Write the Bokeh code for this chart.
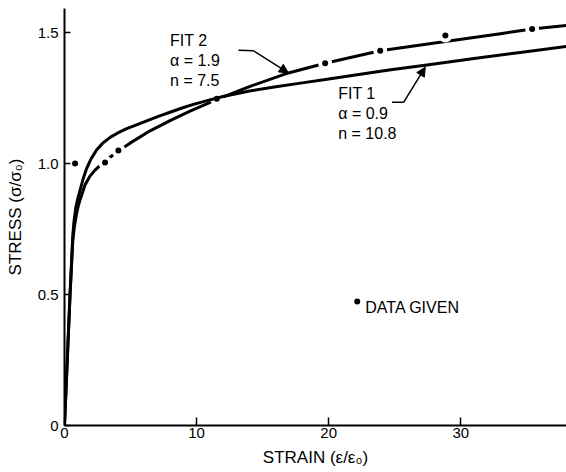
from bokeh.plotting import figure
from bokeh.models import Range1d, FixedTicker, Label, Arrow, NormalHead
from bokeh.embed import file_html
from bokeh.resources import INLINE

# ---- data ----
fit1_strain = [0, 0.42, 0.62, 0.72, 0.85, 1.0, 1.17, 1.4, 1.68, 2.0, 2.44, 2.9, 3.45, 4.0, 4.71, 5.5,
               6.23, 7.1, 7.99, 8.9, 9.76, 11.0, 12.0, 14.0, 16.0, 18.0, 20.0, 22.4, 24.7, 27.3, 31.0, 34.5, 38.0]
fit1_stress = [0, 0.50, 0.72, 0.78, 0.83, 0.865, 0.897, 0.94, 0.982, 1.017, 1.053, 1.078, 1.100, 1.116, 1.133, 1.149,
               1.163, 1.180, 1.196, 1.212, 1.226, 1.243, 1.256, 1.277, 1.293, 1.308, 1.323, 1.341, 1.358, 1.375, 1.401, 1.424, 1.447]

fit2_strain = [0, 0.42, 0.62, 0.75, 0.9, 1.05, 1.2, 1.55, 1.9, 2.31, 3.07, 4.08, 4.96, 6.48, 7.99, 9.5, 10.77,
               11.53, 14.0, 16.95, 19.73, 23.9, 28.83, 33.0, 35.4, 38.0]
fit2_stress = [0, 0.50, 0.70, 0.76, 0.805, 0.84, 0.865, 0.918, 0.95, 0.975, 1.01, 1.048, 1.078, 1.125, 1.164, 1.200, 1.228,
               1.245, 1.294, 1.346, 1.383, 1.431, 1.466, 1.496, 1.514, 1.527]

data_strain = [0.8, 3.07, 4.08, 11.53, 19.73, 23.9, 28.83, 35.4]
data_stress = [1.0, 1.004, 1.050, 1.247, 1.383, 1.431, 1.489, 1.514]

x_ticks = [0, 10, 20, 30]
x_tick_labels = ["0", "10", "20", "30"]
y_ticks = [0, 0.5, 1.0, 1.5]
y_tick_labels = ["0", "0.5", "1.0", "1.5"]

FONT = "Liberation Sans"

p = figure(width=566, height=472, output_backend="svg", toolbar_location=None,
           x_range=Range1d(0, 38.0), y_range=Range1d(0, 1.592),
           min_border_left=64, min_border_right=0, min_border_top=8, min_border_bottom=47)
p.outline_line_color = None
p.grid.visible = False

p.xaxis.ticker = FixedTicker(ticks=x_ticks)
p.xaxis.major_label_overrides = dict(zip(x_ticks, x_tick_labels))
p.yaxis.ticker = FixedTicker(ticks=y_ticks)
p.yaxis.major_label_overrides = dict(zip(y_ticks, y_tick_labels))

for ax in (p.xaxis[0], p.yaxis[0]):
    ax.axis_line_width = 2
    ax.axis_line_color = "black"
    ax.major_tick_line_color = "black"
    ax.major_tick_line_width = 1.5
    ax.major_tick_out = 0
    ax.minor_tick_line_color = None
    ax.major_label_text_font = FONT
    ax.major_label_text_font_size = "15px"
    ax.major_label_text_color = "black"
    ax.axis_label_text_font = FONT
    ax.axis_label_text_font_size = "17px"
    ax.axis_label_text_font_style = "normal"
    ax.axis_label_text_color = "black"

p.xaxis.axis_label = "STRAIN (ε/ε₀)"
p.xaxis.major_tick_in = 8
p.xaxis.major_label_standoff = 2
p.xaxis.axis_label_standoff = 7

p.yaxis.axis_label = "STRESS (σ/σ₀)"
p.yaxis.major_tick_in = 6
p.yaxis.major_label_standoff = 6
p.yaxis.axis_label_standoff = 10

# curves
p.line(fit2_strain, fit2_stress, line_width=3, line_color="black", line_join="round")
p.scatter(data_strain, data_stress, size=14, fill_color="white", line_color=None)
p.line(fit1_strain, fit1_stress, line_width=3, line_color="black", line_join="round")
p.scatter(data_strain, data_stress, size=6, fill_color="black", line_color=None)

# annotations
def txt(x, y, s):
    p.add_layout(Label(x=x, y=y, text=s, text_font=FONT, text_font_size="16px",
                       text_color="black", text_baseline="alphabetic", text_align="left"))

txt(7.99, 1.469, "FIT 2")
txt(7.99, 1.393, "α = 1.9")
txt(7.99, 1.317, "n = 7.5")
txt(20.72, 1.267, "FIT 1")
txt(20.72, 1.191, "α = 0.9")
txt(20.72, 1.115, "n = 10.8")

# leader lines
p.line([13.17, 14.3], [1.433, 1.431], line_width=1.5, line_color="black")
p.add_layout(Arrow(x_start=14.3, y_start=1.431, x_end=16.95, y_end=1.346, line_width=1.5,
                   line_color="black",
                   end=NormalHead(size=9, fill_color="black", line_color="black", line_width=1)))
p.line([24.79, 25.67], [1.234, 1.234], line_width=1.5, line_color="black")
p.add_layout(Arrow(x_start=25.67, y_start=1.234, x_end=27.31, y_end=1.368, line_width=1.5,
                   line_color="black",
                   end=NormalHead(size=9, fill_color="black", line_color="black", line_width=1)))

# key
p.scatter([22.16], [0.473], size=6, fill_color="black", line_color=None)
txt(22.77, 0.450, "DATA GIVEN")

open("out.html", "w").write(file_html(p, INLINE))
